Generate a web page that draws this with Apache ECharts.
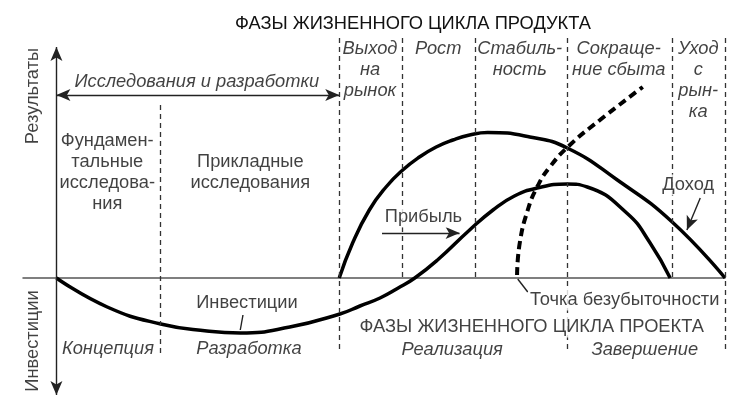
<!DOCTYPE html>
<html>
<head>
<meta charset="utf-8">
<script src="https://cdn.jsdelivr.net/npm/echarts@6/dist/echarts.min.js"></script>
<style>html,body{margin:0;padding:0;background:#fff}#c{width:738px;height:403px}</style>
</head>
<body>
<div id="c"></div>
<script>
// ---- data (time in arbitrary units, value in arbitrary units) ----
var phaseX      = [15.6, 42.3, 51.7, 62.6, 76.4, 92.1, 100];
var phaseTop    = [173, 240, 240, 240, 240, 240, 240];
var phaseBottom = [-75, -75, 0, 0, -75, 0, -75];

var revenueX = [42.3, 44.3, 46.8, 49.3, 51.8, 54.3, 56.8, 59.3, 61.8, 64.5, 70.8, 76.4, 83.9, 92.1, 100];
var revenueY = [0, 35, 68, 91, 108, 121, 131, 138, 143, 145.5, 141, 130, 98, 56, 0];

var profitX = [0, 7.6, 15.6, 22.5, 27.5, 34.9, 42.4, 45.4, 48.4, 51.0, 53.6, 57.0, 61.8, 65.3, 68.5, 71.9, 76.4, 79.4, 85.3, 88.8, 91.8];
var profitY = [0, -29, -46, -53, -55, -49, -36, -28, -20, -10.5, 0, 18, 48, 68, 82, 90, 94, 91, 65, 35, 0];

var breakEvenX = [68.9, 69.3, 70.5, 71.9, 73.8, 76.8, 81.3, 87.7];
var breakEvenY = [3, 35, 68, 91, 111, 133, 158, 191];

var titleProduct = 'ФАЗЫ ЖИЗНЕННОГО ЦИКЛА ПРОДУКТА';
var titleProject = 'ФАЗЫ ЖИЗНЕННОГО ЦИКЛА ПРОЕКТА';

// ---- annotations (text, anchor in data units) ----
var textLabels = [
  {t: 'Фундамен-\nтальные\nисследова-\nния', x: 7.6, y: 105.5},
  {t: 'Прикладные\nисследования', x: 29.0, y: 106},
  {t: 'Выход\nна\nрынок', x: 46.9, y: 208, it: 1},
  {t: 'Рост', x: 57.1, y: 229, it: 1},
  {t: 'Стабиль-\nность', x: 69.3, y: 218.5, it: 1},
  {t: 'Сокраще-\nние сбыта', x: 84.1, y: 218.5, it: 1},
  {t: 'Уход\nс\nрын-\nка', x: 96.0, y: 197.5, it: 1},
  {t: 'Исследования и разработки', x: 21.0, y: 196, it: 1},
  {t: 'Инвестиции', x: 28.5, y: -25},
  {t: 'Концепция', x: 7.7, y: -71, it: 1},
  {t: 'Разработка', x: 28.8, y: -71, it: 1},
  {t: 'Реализация', x: 59.2, y: -72, it: 1},
  {t: 'Завершение', x: 88.0, y: -72, it: 1},
  {t: titleProject, x: 71.1, y: -49, bg: 1},
  {t: 'Точка безубыточности', x: 85.0, y: -22, bg: 1},
  {t: 'Прибыль', x: 54.9, y: 61, bg: 1},
  {t: 'Доход', x: 94.5, y: 93, bg: 1},
  {t: 'Результаты', x: -3.5, y: 182, rot: 90},
  {t: 'Инвестиции', x: -3.5, y: -63, rot: 90}
];
// arrows / leaders: [x1,y1,x2,y2, startArrow, endArrow]
var arrows = [
  [0, 231, 0, -117, 1, 1],
  [0, 183, 42.3, 183, 1, 1],
  [48.7, 45, 60.3, 45, 0, 1],
  [96.3, 80, 94.3, 48, 0, 1]
];
var leaders = [
  [27.9, -37, 27.5, -52],
  [69.0, -1, 70.5, -14]
];

function zip(xs, ys) { return xs.map(function (v, i) { return [v, ys[i]]; }); }
var FONT = '"Liberation Sans", Arial, sans-serif';
var INK = '#111';
var FS = 18.3;

var chart = echarts.init(document.getElementById('c'), null, {renderer: 'canvas'});

var phaseLines = phaseX.map(function (x, i) {
  return [{coord: [x, phaseTop[i]]}, {coord: [x, phaseBottom[i]]}];
});
var arrowLines = arrows.map(function (a) {
  return [{coord: [a[0], a[1]], symbol: a[4] ? 'arrow' : 'none'},
          {coord: [a[2], a[3]], symbol: a[5] ? 'arrow' : 'none'}];
});
var leaderLines = leaders.map(function (a) {
  return [{coord: [a[0], a[1]], symbol: 'none'}, {coord: [a[2], a[3]], symbol: 'none'}];
});

var labelData = textLabels.map(function (l) {
  return {
    value: [l.x, l.y],
    label: {
      formatter: l.t,
      fontStyle: l.it ? 'italic' : 'normal',
      rotate: l.rot || 0,
      backgroundColor: l.bg ? '#fff' : 'transparent',
      padding: l.bg ? [0, 2] : 0
    }
  };
});

chart.setOption({
  animation: false,
  title: {
    text: titleProduct, left: 408, top: 10, textAlign: 'center',
    textStyle: {fontFamily: FONT, fontSize: FS, fontWeight: 'normal', color: INK}
  },
  grid: {left: 23, right: 13, top: 28, bottom: 5},
  xAxis: {
    type: 'value', min: -5, max: 100,
    axisLine: {show: true, onZero: true, lineStyle: {color: '#555', width: 1.5}},
    axisTick: {show: false}, axisLabel: {show: false}, splitLine: {show: false}
  },
  yAxis: {
    type: 'value', min: -120, max: 250, show: false
  },
  series: [
    {
      type: 'line', name: 'guides', data: [], silent: true,
      markLine: {
        silent: true, symbol: ['none', 'none'], label: {show: false},
        lineStyle: {color: '#333', width: 1.3, type: [5, 4]},
        emphasis: {disabled: true},
        data: phaseLines
      }
    },
    {
      type: 'line', name: 'arrows', data: [], silent: true,
      markLine: {
        silent: true, symbolSize: [9, 14], label: {show: false},
        lineStyle: {color: '#222', width: 1.4, type: 'solid'},
        emphasis: {disabled: true},
        data: arrowLines.concat(leaderLines)
      }
    },
    {
      type: 'line', name: 'Доход', data: zip(revenueX, revenueY),
      smooth: 0.5, showSymbol: false, lineStyle: {color: '#000', width: 3.5}, z: 3
    },
    {
      type: 'line', name: 'Прибыль', data: zip(profitX, profitY),
      smooth: 0.5, showSymbol: false, lineStyle: {color: '#000', width: 3.5}, z: 3
    },
    {
      type: 'line', name: 'Точка безубыточности', data: zip(breakEvenX, breakEvenY),
      smooth: 0.5, showSymbol: false, lineStyle: {color: '#000', width: 4, type: [8, 5]}, z: 3
    },
    {
      type: 'scatter', name: 'labels', data: labelData, symbolSize: 0, silent: true, z: 5,
      label: {
        show: true, position: 'inside', align: 'center', verticalAlign: 'middle',
        fontFamily: FONT, fontSize: FS, color: INK, lineHeight: 21
      }
    }
  ]
});
</script>
</body>
</html>
